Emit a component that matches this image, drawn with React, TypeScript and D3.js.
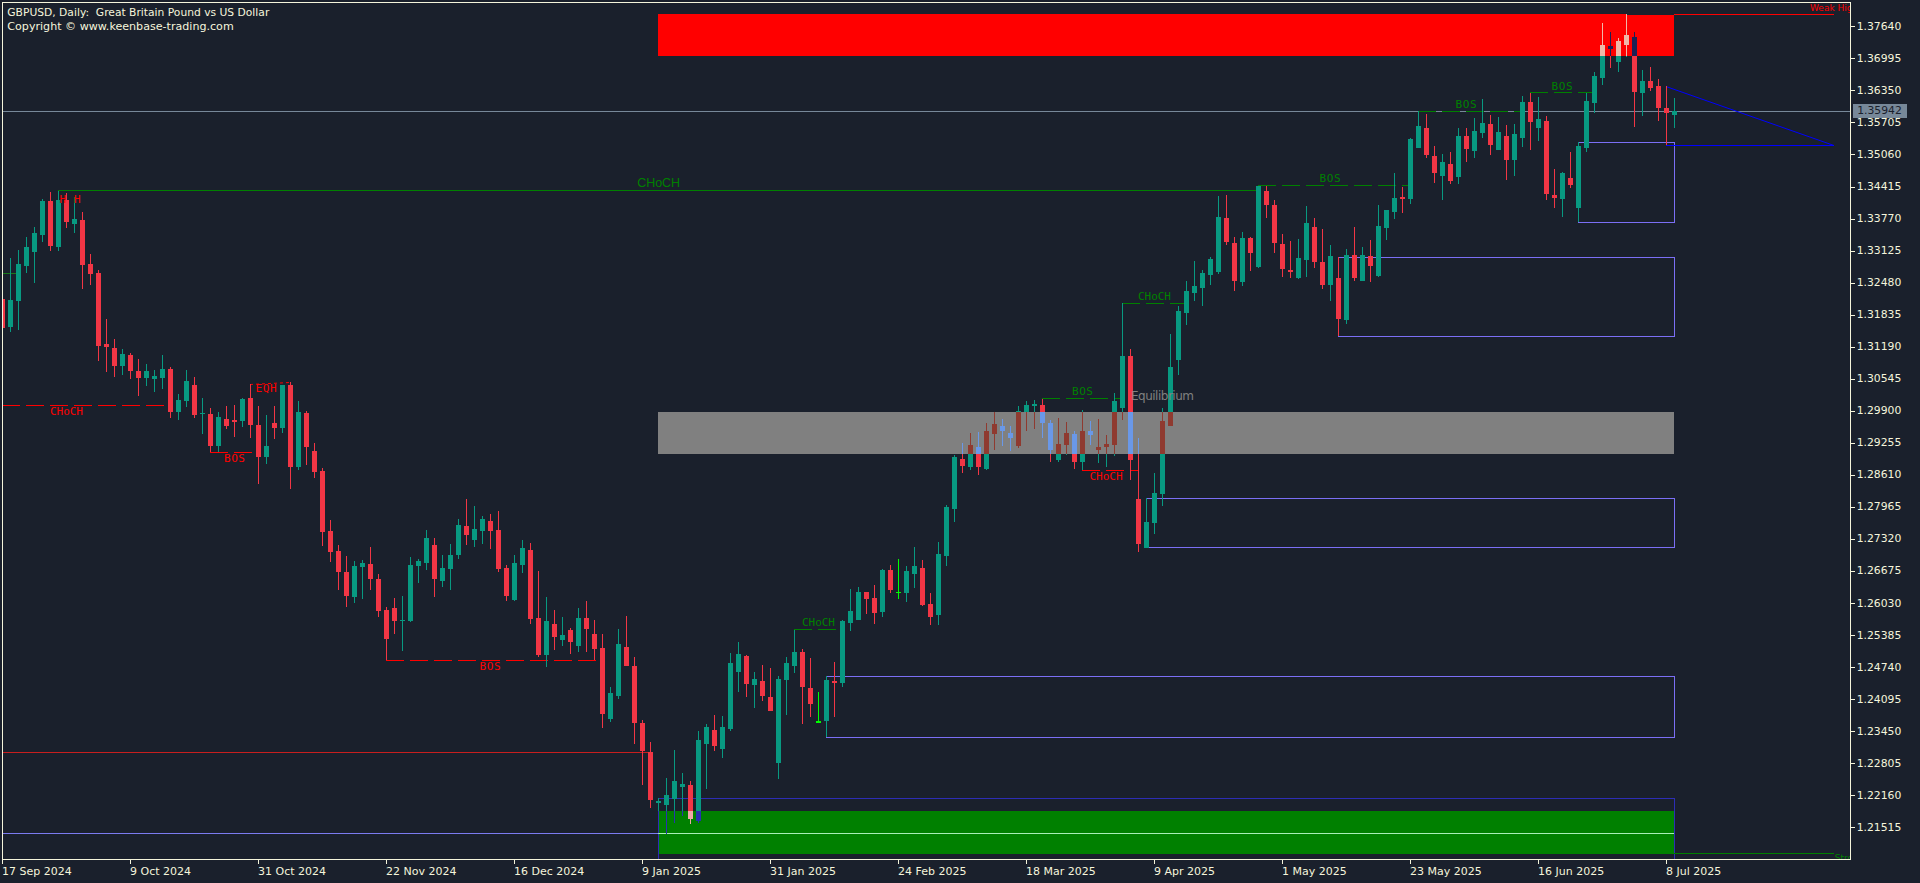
import React from "react";
import * as d3 from "d3";

// Candle indices run from -1 (clipped by the left frame) to 208.
const firstIndex = -1;
const opens = [
1.32150,1.31586,1.32110,1.32815,1.33096,1.33438,1.34123,1.33197,1.34143,1.33660,
1.33740,1.32855,1.32674,1.31245,1.31164,1.30801,1.31023,1.30701,1.30560,1.30540,
1.30560,1.30741,1.29875,1.30097,1.30419,1.29835,1.29835,1.29191,1.29735,1.29714,
1.29694,1.30157,1.29614,1.28969,1.29654,1.29553,1.30419,1.28768,1.29855,1.29090,
1.28687,1.27480,1.27078,1.26655,1.26150,1.26755,1.26816,1.26513,1.25889,1.25929,
1.25667,1.25667,1.26776,1.26836,1.27198,1.26473,1.26715,1.26997,1.27581,1.27299,
1.27480,1.27681,1.27500,1.26735,1.26090,1.26796,1.27098,1.25728,1.24983,1.25607,
1.25285,1.25487,1.25164,1.25728,1.25406,1.25124,1.23695,1.24158,1.25144,1.24762,
1.23614,1.23031,1.22004,1.21963,1.22084,1.22326,1.22366,1.21642,1.23192,1.23474,
1.23091,1.23494,1.24641,1.24963,1.24379,1.24459,1.24138,1.22809,1.24480,1.24762,
1.25043,1.24319,1.23614,1.23654,1.24459,1.24419,1.25627,1.25687,1.26251,1.26130,
1.25848,1.26695,1.26231,1.26231,1.26614,1.26735,1.26009,1.25788,1.26977,1.27923,
1.28929,1.28768,1.29171,1.28728,1.29433,1.29594,1.29453,1.29191,1.29875,1.29996,
1.30016,1.29654,1.28909,1.29211,1.29433,1.28869,1.29493,1.29110,1.29171,1.29211,
1.29956,1.31003,1.28124,1.27138,1.27641,1.28225,1.29594,1.30922,1.31868,1.32271,
1.32372,1.32634,1.32694,1.33781,1.33278,1.32492,1.33378,1.32795,1.34324,1.34042,
1.33257,1.32734,1.32573,1.32935,1.33600,1.32895,1.32432,1.32573,1.31728,1.33036,
1.32513,1.33016,1.32613,1.33580,1.33901,1.34203,1.34163,1.35190,1.35593,1.35029,
1.34626,1.34868,1.34606,1.35431,1.35130,1.35492,1.35673,1.35150,1.35431,1.34948,
1.35392,1.36116,1.35593,1.35733,1.34244,1.34163,1.34586,1.33982,1.35190,1.36096,
1.36599,1.37243,1.36921,1.37263,1.37424,1.36297,1.36538,1.36438,1.35995,1.35854,
];
const highs = [
1.32150,1.32975,1.33136,1.33398,1.33600,1.34163,1.34304,1.34324,1.34284,1.34203,
1.33901,1.33056,1.32734,1.31748,1.31345,1.31144,1.31063,1.30942,1.30842,1.30721,
1.31023,1.30781,1.30238,1.30721,1.30580,1.30157,1.29956,1.29875,1.29996,1.30016,
1.30157,1.30439,1.29996,1.29815,1.29996,1.30419,1.30479,1.30097,1.29896,1.29252,
1.28748,1.27701,1.27198,1.26977,1.26876,1.26896,1.27158,1.26614,1.25949,1.26130,
1.26170,1.26957,1.26916,1.27500,1.27339,1.26997,1.27218,1.27722,1.28124,1.27983,
1.27782,1.27822,1.27883,1.26796,1.26997,1.27299,1.27238,1.26675,1.26150,1.25889,
1.25748,1.25527,1.25929,1.26070,1.25687,1.25406,1.24339,1.25507,1.25768,1.24943,
1.23675,1.23232,1.22104,1.22507,1.23071,1.22608,1.22447,1.23454,1.23594,1.23775,
1.23755,1.25023,1.25245,1.24983,1.24641,1.24782,1.24721,1.24560,1.24943,1.25487,
1.25104,1.24923,1.24238,1.24560,1.24842,1.25687,1.26312,1.26352,1.26251,1.26392,
1.26715,1.26796,1.26916,1.26776,1.27158,1.26896,1.26231,1.27258,1.28003,1.29010,
1.29252,1.29453,1.29473,1.29654,1.29875,1.29735,1.29594,1.29996,1.30097,1.30117,
1.30137,1.29714,1.29755,1.29674,1.29493,1.29916,1.29694,1.29735,1.29413,1.30258,
1.32070,1.31144,1.29352,1.28144,1.28647,1.29956,1.31446,1.32009,1.32513,1.32915,
1.32734,1.32996,1.34223,1.34244,1.33398,1.33499,1.33398,1.34427,1.34427,1.34143,
1.33459,1.33318,1.33358,1.34022,1.33781,1.33560,1.33237,1.32996,1.33157,1.33600,
1.33197,1.33338,1.34042,1.33942,1.34687,1.34405,1.35392,1.35935,1.35875,1.35231,
1.35070,1.35110,1.35593,1.35593,1.35794,1.36176,1.35855,1.35814,1.35653,1.35673,
1.36236,1.36297,1.36216,1.35834,1.34767,1.34707,1.35110,1.35311,1.36297,1.36720,
1.37706,1.37525,1.37404,1.37887,1.37525,1.36760,1.36820,1.36579,1.36438,1.36196,
];
const lows = [
1.31566,1.31486,1.31526,1.32674,1.32472,1.33298,1.33116,1.33116,1.33580,1.33479,
1.32351,1.32432,1.30902,1.30680,1.30580,1.30620,1.30540,1.30198,1.30399,1.30278,
1.30338,1.29755,1.29714,1.29976,1.29755,1.29433,1.29070,1.29070,1.29533,1.29372,
1.29574,1.29352,1.28426,1.28829,1.29332,1.29453,1.28325,1.28708,1.28809,1.28547,
1.27178,1.26856,1.26292,1.25949,1.26030,1.26110,1.26292,1.25748,1.24882,1.25406,
1.25063,1.25647,1.26432,1.26695,1.26150,1.26352,1.26292,1.26916,1.27198,1.27158,
1.27218,1.27118,1.26655,1.26070,1.26070,1.26635,1.25607,1.24943,1.24742,1.25083,
1.25164,1.25003,1.25043,1.25043,1.24882,1.23514,1.23634,1.24097,1.24762,1.23192,
1.22366,1.21903,1.21843,1.21380,1.21602,1.21742,1.21582,1.21602,1.22285,1.23051,
1.22910,1.23454,1.24238,1.24138,1.23916,1.24057,1.23856,1.22487,1.23775,1.24621,
1.23594,1.23735,1.23614,1.23333,1.23735,1.24339,1.25467,1.25687,1.25808,1.25607,
1.25748,1.26231,1.26110,1.26050,1.26332,1.25969,1.25587,1.25587,1.26776,1.27661,
1.28647,1.28708,1.28607,1.28708,1.29110,1.29191,1.29090,1.29151,1.29493,1.29533,
1.29352,1.28869,1.28869,1.29010,1.28728,1.28708,1.29211,1.28849,1.28768,1.28990,
1.29714,1.28507,1.27057,1.27138,1.27420,1.27983,1.29594,1.30620,1.31627,1.32110,
1.32009,1.32432,1.32654,1.33237,1.32311,1.32412,1.32714,1.32775,1.33781,1.33076,
1.32593,1.32573,1.32553,1.32593,1.32775,1.32351,1.32110,1.31405,1.31647,1.32513,
1.32513,1.32492,1.32593,1.33338,1.33761,1.33881,1.34062,1.35190,1.34989,1.34485,
1.34143,1.34465,1.34465,1.34908,1.34989,1.35392,1.35049,1.35150,1.34546,1.34626,
1.35210,1.35150,1.35331,1.34143,1.33982,1.33801,1.34385,1.33700,1.35110,1.35895,
1.36458,1.36800,1.36720,1.37022,1.35612,1.35834,1.36337,1.35733,1.35250,1.35593,
];
const closes = [
1.31566,1.32130,1.32855,1.33197,1.33479,1.34123,1.33217,1.34143,1.33700,1.33761,
1.32835,1.32654,1.31205,1.31185,1.30801,1.31043,1.30701,1.30560,1.30701,1.30600,
1.30741,1.29875,1.30117,1.30499,1.29815,1.29855,1.29191,1.29775,1.29594,1.29674,
1.30137,1.29614,1.28969,1.29191,1.29553,1.30419,1.28768,1.29875,1.29171,1.28667,
1.27460,1.27057,1.26655,1.26170,1.26776,1.26836,1.26513,1.25868,1.25305,1.25667,
1.25687,1.26796,1.26876,1.27339,1.26513,1.26735,1.26997,1.27601,1.27400,1.27521,
1.27722,1.27480,1.26715,1.26170,1.26836,1.27138,1.25708,1.24983,1.25667,1.25345,
1.25386,1.25245,1.25728,1.25507,1.25104,1.23795,1.24218,1.25204,1.24762,1.23614,
1.23051,1.22064,1.22044,1.22165,1.22447,1.22387,1.21682,1.23272,1.23534,1.23151,
1.23534,1.24822,1.25003,1.24399,1.24500,1.24158,1.23856,1.24500,1.24822,1.25043,
1.24339,1.23997,1.23654,1.24480,1.24419,1.25667,1.25868,1.26251,1.26110,1.25828,
1.26695,1.26292,1.26251,1.26675,1.26776,1.25989,1.25748,1.27017,1.27963,1.28969,
1.28788,1.29211,1.28768,1.29493,1.29634,1.29493,1.29352,1.29896,1.30016,1.30036,
1.29654,1.29110,1.29231,1.29453,1.28869,1.29493,1.29413,1.29171,1.29231,1.30097,
1.31003,1.28909,1.27218,1.27661,1.28245,1.29694,1.30781,1.31909,1.32311,1.32412,
1.32674,1.32955,1.33801,1.33298,1.32513,1.33378,1.33076,1.34427,1.34042,1.33278,
1.32754,1.32694,1.32975,1.33680,1.32895,1.32432,1.33016,1.31748,1.33036,1.32573,
1.33036,1.32815,1.33620,1.33942,1.34183,1.34163,1.35371,1.35633,1.35049,1.34687,
1.34908,1.34525,1.35431,1.35170,1.35532,1.35693,1.35250,1.35512,1.34948,1.35472,
1.36116,1.35713,1.35774,1.34264,1.34183,1.34687,1.34445,1.35231,1.36136,1.36639,
1.37263,1.37183,1.37344,1.37464,1.36317,1.36538,1.36397,1.35995,1.35894,1.35935,
];
const limeCandles = [101, 111];

const yTickValues = [1.3764,1.36995,1.3635,1.35705,1.3506,1.34415,1.3377,1.33125,1.3248,1.31835,1.3119,1.30545,1.299,1.29255,1.2861,1.27965,1.2732,1.26675,1.2603,1.25385,1.2474,1.24095,1.2345,1.22805,1.2216,1.21515];
const xTickIndex = [-1,15,31,47,63,79,95,111,127,143,159,175,191,207];
const xTickLabels = ["17 Sep 2024","9 Oct 2024","31 Oct 2024","22 Nov 2024","16 Dec 2024","9 Jan 2025","31 Jan 2025","24 Feb 2025","18 Mar 2025","9 Apr 2025","1 May 2025","23 May 2025","16 Jun 2025","8 Jul 2025"];
const lastPrice = 1.35942;

// Filled zones: [first index, last index, top price, bottom price]
const zoneRed = { i0: 81, i1: 208, top: 1.37887, bottom: 1.37042, fill: "#ff0000", up: "#f0b8a8", down: "#1c2155" };
const zoneGray = { i0: 81, i1: 208, top: 1.29875, bottom: 1.2903, fill: "#808080", up: "#8f3a30", down: "#6a98e8" };
const zoneGreen = { i0: 81, i1: 208, top: 1.21843, bottom: 1.20977, fill: "#008000", up: "#2a30b0", down: "#f0a8a8" };
const zones = [zoneRed, zoneGray, zoneGreen];

// Outlined boxes
const boxes = [
  { i0: 196, i1: 208, top: 1.35311, bottom: 1.337, color: "#7b6ff5" },
  { i0: 166, i1: 208, top: 1.32996, bottom: 1.31405, color: "#7b6ff5" },
  { i0: 142, i1: 208, top: 1.28144, bottom: 1.27158, color: "#7b6ff5" },
  { i0: 102, i1: 208, top: 1.2456, bottom: 1.23333, color: "#7b6ff5" },
  { i0: 81, i1: 208, top: 1.22104, bottom: 1.20876, color: "#2d2db5" },
];

const GREEN = "#008000";
const RED = "#ff0000";
// Horizontal structure lines
const hLines = [
  { i0: 6, i1: 156, p: 1.34344, c: GREEN, dash: "" },
  { i0: -1, i1: 1, p: 1.32674, c: "#1a7a1a", dash: "" },
  { i0: 156, i1: 175, p: 1.34445, c: GREEN, dash: "18 6" },
  { i0: 176, i1: 189, p: 1.35935, c: GREEN, dash: "18 6" },
  { i0: 190, i1: 198, p: 1.36317, c: GREEN, dash: "18 6" },
  { i0: 98, i1: 104, p: 1.25507, c: GREEN, dash: "18 6" },
  { i0: 139, i1: 147, p: 1.3207, c: GREEN, dash: "18 6" },
  { i0: 129, i1: 139, p: 1.30157, c: GREEN, dash: "18 6" },
  { i0: 134, i1: 141, p: 1.28708, c: RED, dash: "18 6" },
  { i0: -1, i1: 20, p: 1.30016, c: RED, dash: "18 6" },
  { i0: 25, i1: 31, p: 1.2907, c: RED, dash: "18 6" },
  { i0: 47, i1: 74, p: 1.24882, c: RED, dash: "18 6" },
  { i0: -1, i1: 80, p: 1.23031, c: "#c81e1e", dash: "" },
  { i0: -1, i1: 81, p: 1.21401, c: "#7b7bf0", dash: "" },
  { i0: 81, i1: 208, p: 1.21401, c: "#a8f0b8", dash: "" },
  { i0: 208, i1: 228, p: 1.37887, c: RED, dash: "" },
  { i0: 202, i1: 208, p: 1.37887, c: "#1a202c", dash: "" },
  { i0: 208, i1: 228, p: 1.20997, c: GREEN, dash: "" },
];
// Sloped lines
const sLines = [
  { i0: 207, p0: 1.36438, i1: 228, p1: 1.3525, c: "#0000ff", dash: "" },
  { i0: 207, p0: 1.3525, i1: 228, p1: 1.3525, c: "#0000ff", dash: "" },
  { i0: 30, p0: 1.30439, i1: 35, p1: 1.30479, c: RED, dash: "3 3" },
];
// Text labels: candle index of the centre and price level of the middle
const labels = [
  { t: "HH", i: 7.5, p: 1.34163, c: RED, w: 21 },
  { t: "BOS", i: 165, p: 1.34566, c: GREEN, w: 21 },
  { t: "BOS", i: 182, p: 1.36075, c: GREEN, w: 21 },
  { t: "BOS", i: 194, p: 1.36438, c: GREEN, w: 21 },
  { t: "CHoCH", i: 101.06, p: 1.25634, c: GREEN, w: 33 },
  { t: "CHoCH", i: 143.06, p: 1.32196, c: GREEN, w: 33 },
  { t: "BOS", i: 134.06, p: 1.30283, c: GREEN, w: 21 },
  { t: "CHoCH", i: 137, p: 1.28573, c: RED, w: 33 },
  { t: "CHoCH", i: 7.06, p: 1.29881, c: RED, w: 33 },
  { t: "BOS", i: 28.06, p: 1.28935, c: RED, w: 21 },
  { t: "EQH", i: 32, p: 1.30344, c: RED, w: 21 },
  { t: "BOS", i: 60, p: 1.24747, c: RED, w: 21 },
];

const WIDTH = 1920;
const HEIGHT = 883;
const BG = "#1a202c";
const FRAME = "#f5f5dc";
const UP = "#089981";
const DOWN = "#f23645";
const LIME = "#00ff00";
const SANS = "'DejaVu Sans', sans-serif";
const MONO = "'DejaVu Sans Mono', monospace";

const x = d3.scaleLinear().domain([0, 208]).range([10, 1674]);
const y = d3.scaleLinear().domain([1.3764, 1.21515]).range([26.3, 827.3]);
const ry = (p: number) => Math.round(y(p));

const candles = d3.range(opens.length).map((k) => ({
  i: k + firstIndex,
  o: opens[k],
  h: highs[k],
  l: lows[k],
  c: closes[k],
}));

function Candles({ up, down }: { up: string; down: string }) {
  return (
    <g shapeRendering="crispEdges">
      {candles.map((d) => {
        const col = limeCandles.includes(d.i) ? LIME : d.c >= d.o ? up : down;
        const top = ry(Math.max(d.o, d.c));
        const bot = ry(Math.min(d.o, d.c));
        return (
          <g key={d.i} fill={col}>
            <rect x={x(d.i)} width={1} y={ry(d.h)} height={Math.max(1, ry(d.l) - ry(d.h))} />
            <rect x={x(d.i) - 2} width={5} y={top} height={Math.max(1, bot - top)} />
          </g>
        );
      })}
    </g>
  );
}

export default function App() {
  const fl = 3;
  const right = 1850;
  const bottom = 859;
  return (
    <svg
      width={WIDTH}
      height={HEIGHT}
      viewBox={`0 0 ${WIDTH} ${HEIGHT}`}
      style={{ position: "fixed", left: 0, top: 0, display: "block" }}
    >
      <defs>
        <clipPath id="plot">
          <rect x={fl} y={fl} width={right - fl} height={bottom - fl} />
        </clipPath>
        {zones.map((z, k) => (
          <clipPath id={`zone${k}`} key={k}>
            <rect x={x(z.i0)} y={ry(z.top)} width={x(z.i1) - x(z.i0)} height={ry(z.bottom) - ry(z.top)} />
          </clipPath>
        ))}
      </defs>
      <rect width={WIDTH} height={HEIGHT} fill={BG} />
      <g clipPath="url(#plot)">
        {zones.map((z, k) => (
          <rect key={k} x={x(z.i0)} y={ry(z.top)} width={x(z.i1) - x(z.i0)} height={ry(z.bottom) - ry(z.top)} fill={z.fill} shapeRendering="crispEdges" />
        ))}
        <line x1={fl} x2={right} y1={ry(lastPrice) + 0.5} y2={ry(lastPrice) + 0.5} stroke="#778899" shapeRendering="crispEdges" />
        {boxes.map((b, k) => (
          <rect key={k} x={x(b.i0) + 0.5} y={ry(b.top) + 0.5} width={x(b.i1) - x(b.i0)} height={ry(b.bottom) - ry(b.top)} fill="none" stroke={b.color} shapeRendering="crispEdges" />
        ))}
        {hLines.map((l, k) => (
          <line key={k} x1={x(l.i0)} x2={x(l.i1)} y1={ry(l.p) + 0.5} y2={ry(l.p) + 0.5} stroke={l.c} strokeDasharray={l.dash || undefined} shapeRendering="crispEdges" />
        ))}
        {sLines.map((l, k) => (
          <line key={k} x1={x(l.i0)} x2={x(l.i1)} y1={ry(l.p0) + 0.5} y2={ry(l.p1) + 0.5} stroke={l.c} strokeDasharray={l.dash || undefined} />
        ))}
        <Candles up={UP} down={DOWN} />
        {zones.map((z, k) => (
          <g key={k} clipPath={`url(#zone${k})`}>
            <Candles up={z.up} down={z.down} />
          </g>
        ))}
        {labels.map((l, k) => (
          <text key={k} x={x(l.i)} y={y(l.p)} fill={l.c} fontFamily={MONO} fontSize={11} textAnchor="middle" dominantBaseline="central" textLength={l.w} lengthAdjust="spacing">
            {l.t}
          </text>
        ))}
        <text x={x(81.08)} y={y(1.34505)} fill={GREEN} fontFamily="'Liberation Sans', sans-serif" fontSize={13.5} textAnchor="middle" dominantBaseline="central" textLength={43} lengthAdjust="spacingAndGlyphs">CHoCH</text>
        <text x={x(144.06)} y={y(1.30203)} fill="#808080" fontFamily={SANS} fontSize={12} textAnchor="middle" dominantBaseline="central" textLength={63} lengthAdjust="spacing">Equilibrium</text>
        <text x={x(225)} y={y(1.38018)} fill={RED} fontFamily={SANS} fontSize={9} dominantBaseline="central">Weak High</text>
        <text x={x(228.1)} y={y(1.20897)} fill={GREEN} fontFamily={SANS} fontSize={9} dominantBaseline="central">Strong Low</text>
      </g>

      <rect x={2.5} y={2.5} width={right - 2} height={bottom - 2} fill="none" stroke={FRAME} shapeRendering="crispEdges" />

      <text x={7.3} y={12} fill={FRAME} fontFamily={SANS} fontSize={11} dominantBaseline="central" xmlSpace="preserve" textLength={262} lengthAdjust="spacingAndGlyphs">GBPUSD, Daily:  Great Britain Pound vs US Dollar</text>
      <text x={7.3} y={26} fill={FRAME} fontFamily={SANS} fontSize={11} dominantBaseline="central" textLength={226.4} lengthAdjust="spacingAndGlyphs">Copyright © www.keenbase-trading.com</text>

      {yTickValues.map((v) => (
        <g key={v}>
          <line x1={right + 1} x2={right + 5} y1={ry(v) + 0.5} y2={ry(v) + 0.5} stroke={FRAME} shapeRendering="crispEdges" />
          <text x={right + 6.7} y={y(v)} fill={FRAME} fontFamily={SANS} fontSize={11} dominantBaseline="central" textLength={44.7} lengthAdjust="spacingAndGlyphs">{d3.format(".5f")(v)}</text>
        </g>
      ))}
      <rect x={1853} y={ry(lastPrice) - 7} width={54} height={14} fill="#778899" />
      <text x={right + 7.2} y={y(lastPrice)} fill={BG} fontFamily={SANS} fontSize={11} dominantBaseline="central" textLength={44.7} lengthAdjust="spacingAndGlyphs">{d3.format(".5f")(lastPrice)}</text>

      {xTickIndex.map((i, k) => (
        <g key={i}>
          <line x1={x(i) + 0.5} x2={x(i) + 0.5} y1={bottom + 1} y2={bottom + 5} stroke={FRAME} shapeRendering="crispEdges" />
          <text x={x(i)} y={871} fill={FRAME} fontFamily={SANS} fontSize={11} dominantBaseline="central">{xTickLabels[k]}</text>
        </g>
      ))}
    </svg>
  );
}
